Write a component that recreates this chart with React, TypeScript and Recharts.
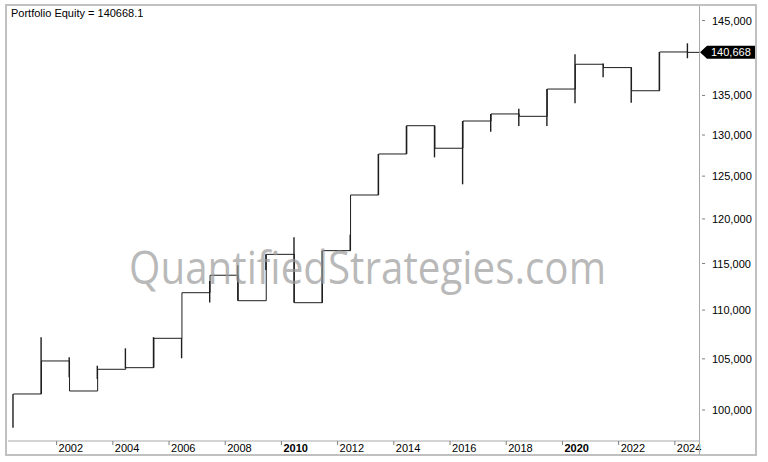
import React from 'react';
import { ComposedChart, Line, Bar, XAxis, YAxis, ReferenceLine, ReferenceDot } from 'recharts';

// yearly equity bars
const years = [
  2000, 2001, 2002, 2003, 2004, 2005, 2006, 2007, 2008, 2009, 2010, 2011, 2012,
  2013, 2014, 2015, 2016, 2017, 2018, 2019, 2020, 2021, 2022, 2023, 2024,
];
const equityClose = [
  101540, 104790, 101830, 103960, 104120, 107080, 111840, 113720, 110990, 116010, 110780, 116420, 122770,
  127670, 131160, 128370, 131750, 132640, 132340, 135830, 139080, 138640, 135610, 140720, 140668,
];
const equityLow = [
  98330, 101540, 103170, 103000, 104060, 104120, 105060, 110800, 110990, 114300, 110780, 110780, 116420,
  122770, 127670, 127260, 124030, 130410, 131120, 131120, 134000, 137360, 134070, 135610, 139880,
];
const equityHigh = [
  101540, 107180, 105160, 104300, 106060, 107200, 107100, 113100, 114800, 116010, 117910, 116420, 118200,
  127670, 131160, 131160, 131750, 132640, 133310, 135830, 140410, 139170, 138640, 140720, 141890,
];

// 140,000 sits under the last-value marker, so it is left out
const yTicks = [100000, 105000, 110000, 115000, 120000, 125000, 130000, 135000, 145000];
const xTicks = [2002, 2004, 2006, 2008, 2010, 2012, 2014, 2016, 2018, 2020, 2022, 2024];
const boldYears = [2010, 2020];

const titleText = 'Portfolio Equity = 140668.1';
const watermarkText = 'QuantifiedStrategies.com';

// bars sit a bit before mid-year, so the year ticks land between them
const BAR_OFFSET = 0.46;
const X_DOMAIN: [number, number] = [2000.27, 2024.86];
const Y_DOMAIN: [number, number] = [97085, 147030];

const FONT = '"Liberation Sans", Arial, sans-serif';
const INK = '#1e1e1e';
const FRAME = '#c0c0c0';

const data = years.map((year, i) => ({
  t: year + BAR_OFFSET,
  close: equityClose[i],
  range: [equityLow[i], equityHigh[i]],
}));

const lastIdx = years.length - 1;
const lastT = years[lastIdx] + BAR_OFFSET;
const lastValue = equityClose[lastIdx];

const fmt = (v: number) => Math.round(v).toLocaleString('en-US');

const YearTick = ({ x, y, payload }: any) => {
  const bold = boldYears.includes(payload.value);
  return (
    <g>
      <line x1={x} x2={x} y1={y} y2={y + 4} stroke="#808080" />
      <text
        x={x + 2}
        y={y + 11}
        fontFamily={FONT}
        fontSize={11}
        fontWeight={bold ? 'bold' : 'normal'}
        fill="#000"
        textAnchor="start"
      >
        {payload.value}
      </text>
    </g>
  );
};

const ValueTick = ({ x, y, payload }: any) => (
  <g>
    <line x1={x + 3} x2={x + 6} y1={y} y2={y} stroke="#808080" />
    <text x={x + 13} y={y + 4} fontFamily={FONT} fontSize={11} fill="#000" textAnchor="start">
      {fmt(payload.value)}
    </text>
  </g>
);

// black arrow box with the last equity value on the price axis
const LastValueMarker = ({ cx, cy }: any) => (
  <g>
    <polygon
      points={`${cx + 1},${cy} ${cx + 8},${cy - 6.5} ${cx + 56},${cy - 6.5} ${cx + 56},${cy + 6.5} ${cx + 8},${cy + 6.5}`}
      fill="#000"
    />
    <text x={cx + 12} y={cy + 4} fontFamily={FONT} fontSize={11} fill="#fff" textAnchor="start">
      {fmt(lastValue)}
    </text>
  </g>
);

export default function App() {
  return (
    <div style={{ position: 'absolute', left: 0, top: 0, width: 768, height: 462, background: '#fff' }}>
      <ComposedChart width={768} height={462} data={data} margin={{ top: 6, right: 12, bottom: 7, left: 8 }}>
        <XAxis
          dataKey="t"
          type="number"
          domain={X_DOMAIN}
          allowDataOverflow
          ticks={xTicks}
          height={14}
          tickSize={0}
          tickMargin={0}
          tickLine={false}
          axisLine={{ stroke: '#a8a8a8' }}
          tick={<YearTick />}
          interval={0}
        />
        <YAxis
          orientation="right"
          scale="log"
          domain={Y_DOMAIN}
          allowDataOverflow
          ticks={yTicks}
          width={57}
          tickSize={0}
          tickMargin={0}
          tickLine={false}
          axisLine={false}
          tick={<ValueTick />}
          interval={0}
        />
        <Bar dataKey="range" barSize={1.4} fill={INK} isAnimationActive={false} />
        <Line
          dataKey="close"
          type="stepAfter"
          stroke={INK}
          strokeWidth={1}
          dot={false}
          isAnimationActive={false}
        />
        <ReferenceLine
          segment={[
            { x: lastT, y: lastValue },
            { x: X_DOMAIN[1], y: lastValue },
          ]}
          stroke={INK}
          strokeWidth={1}
        />
        <ReferenceDot x={X_DOMAIN[1]} y={lastValue} r={0} ifOverflow="visible" shape={<LastValueMarker />} />
      </ComposedChart>
      <svg
        width={768}
        height={462}
        style={{ position: 'absolute', left: 0, top: 0, pointerEvents: 'none' }}
      >
        <rect x={6} y={5} width={750} height={450} fill="none" stroke={FRAME} strokeWidth={2} />
        <line x1={699.5} x2={699.5} y1={6} y2={455} stroke="#a8a8a8" />
        <text x={11} y={16.5} fontFamily={FONT} fontSize={11} fill="#000">
          {titleText}
        </text>
        <text
          x={129}
          y={284}
          fontFamily='"Open Sans", "Noto Sans", sans-serif'
          fontSize={46}
          textLength={477}
          lengthAdjust="spacingAndGlyphs"
          fill="#9a9a9a"
          fillOpacity={0.7}
        >
          {watermarkText}
        </text>
      </svg>
    </div>
  );
}
